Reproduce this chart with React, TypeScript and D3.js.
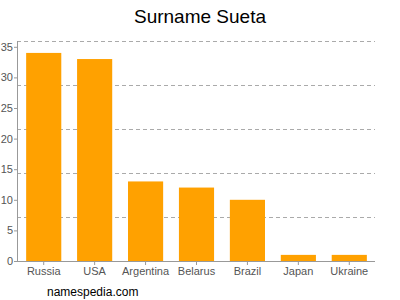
import React from "react";
import * as d3 from "d3";

const categories = ["Russia", "USA", "Argentina", "Belarus", "Brazil", "Japan", "Ukraine"];
const values = [34, 33, 13, 12, 10, 1, 1];
const yTicks = [0, 5, 10, 15, 20, 25, 30, 35];
const title = "Surname Sueta";
const footer = "namespedia.com";

export default function App() {
  const W = 400, H = 300;
  const left = 17, right = 375, top = 41, bottom = 261;
  const x = d3.scaleBand<string>().domain(categories).range([left + 1, right]).paddingInner(0.31).paddingOuter(0.16);
  const y = d3.scaleLinear().domain([0, 35]).range([bottom, bottom - 35 * 6.12]);
  const grid = d3.range(0, 5).map((i) => top + (i * (bottom - top)) / 5);
  const font = "Arial, 'Liberation Sans', sans-serif";
  return (
    <svg width={W} height={H} style={{ position: "absolute", left: 0, top: 0 }} fontFamily={font}>
      <rect width={W} height={H} fill="#fff" />
      <text x={200} y={23} textAnchor="middle" fontSize={19} fill="#000">{title}</text>
      {grid.map((g, i) => (
        <line key={i} x1={left} x2={right} y1={g + 0.5} y2={g + 0.5} stroke="#aaa" strokeDasharray="4,3" />
      ))}
      {categories.map((c, i) => (
        <rect key={c} x={x(c)} y={y(values[i])} width={x.bandwidth()} height={bottom - y(values[i])} fill="#ffa100" />
      ))}
      <line x1={left + 0.5} x2={left + 0.5} y1={top} y2={bottom} stroke="#999" />
      <line x1={left} x2={right} y1={bottom + 0.5} y2={bottom + 0.5} stroke="#999" />
      {yTicks.map((t) => (
        <g key={t}>
          <line x1={left - 3} x2={left} y1={y(t) + 0.5} y2={y(t) + 0.5} stroke="#999" />
          <text x={left - 4} y={y(t) + 4} textAnchor="end" fontSize={11} fill="#555">{t}</text>
        </g>
      ))}
      {categories.map((c) => (
        <g key={c}>
          <line x1={x(c)! + x.bandwidth() / 2} x2={x(c)! + x.bandwidth() / 2} y1={bottom} y2={bottom + 4} stroke="#999" />
          <text x={x(c)! + x.bandwidth() / 2} y={bottom + 14} textAnchor="middle" fontSize={11} fill="#555">{c}</text>
        </g>
      ))}
      <text x={47} y={296} fontSize={12} fill="#000">{footer}</text>
    </svg>
  );
}
